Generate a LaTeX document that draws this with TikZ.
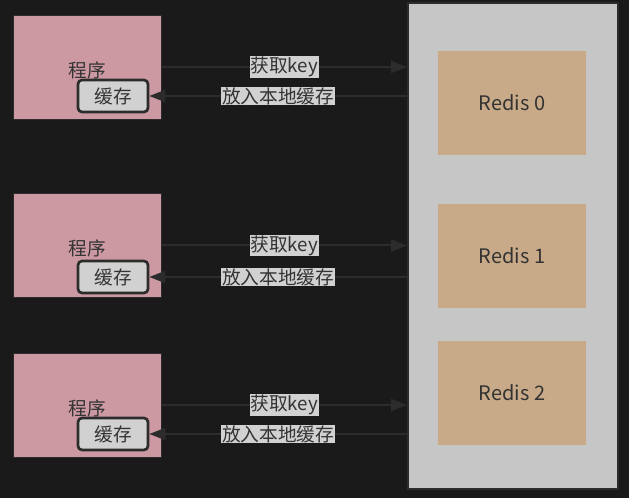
\documentclass[tikz,border=0pt]{standalone}
\usepackage{fontspec}
\setmainfont{Noto Sans CJK SC}
\usepackage{tikz}
\usetikzlibrary{arrows.meta}
\definecolor{bgdark}{HTML}{1A1A1A}
\definecolor{progpink}{HTML}{CC99A2}
\definecolor{cachegray}{HTML}{D1D1D1}
\definecolor{poolgray}{HTML}{C6C6C6}
\definecolor{redistan}{HTML}{C8AA88}
\definecolor{inkdark}{HTML}{333333}
\definecolor{linedark}{HTML}{2C2C2C}

\begin{document}
\begin{tikzpicture}[x=0.75pt,y=-0.75pt]
  \tikzset{ProgStyle/.style = {
    shape         = rectangle,
    draw          = linedark,
    fill          = progpink,
    line width    = 0.6pt,
    minimum width = 111pt,
    minimum height= 78pt
    }
  }
  \tikzset{ProgTextStyle/.style = {
    text          = inkdark,
    font          = \fontsize{14}{16}\selectfont
    }
  }
  \tikzset{CacheStyle/.style = {
    shape         = rectangle,
    rounded corners = 3pt,
    draw          = linedark,
    fill          = cachegray,
    line width    = 2pt,
    text          = inkdark,
    minimum width = 52.5pt,
    minimum height= 24pt,
    font          = \fontsize{14}{16}\selectfont
    }
  }
  \tikzset{RedisStyle/.style = {
    shape         = rectangle,
    fill          = redistan,
    text          = inkdark,
    minimum width = 111pt,
    minimum height= 78pt,
    font          = \fontsize{15}{17}\selectfont
    }
  }
  \tikzset{ArrowStyle/.style = {
    draw          = linedark,
    line width    = 1.5pt,
    -{Triangle[length=12pt,width=9pt]}
    }
  }
  \tikzset{LabelStyle/.style = {
    fill          = cachegray,
    text          = inkdark,
    inner sep     = 0.6pt,
    font          = \fontsize{14}{16}\selectfont
    }
  }

  \fill[bgdark] (0,0) rectangle (629,498);
  \useasboundingbox (0,0) rectangle (629,498);

  \node[draw=linedark, fill=poolgray, line width=1.5pt,
        minimum width=157.5pt, minimum height=364.5pt](Pool) at (513, 246) {};

	\node[RedisStyle](R0) at (512, 103) {Redis 0};
	\node[RedisStyle](R1) at (512, 256) {Redis 1};
	\node[RedisStyle](R2) at (512, 393) {Redis 2};

	\node[ProgStyle](P0) at (87, 67) {};
	\node[ProgStyle](P1) at (87, 245.5) {};
	\node[ProgStyle](P2) at (87, 405) {};
	\node[ProgTextStyle](T0) at (87, 70) {程序};
	\node[ProgTextStyle](T1) at (87, 248.5) {程序};
	\node[ProgTextStyle](T2) at (87, 408) {程序};

	\node[CacheStyle](C0) at (113, 96) {缓存};
	\node[CacheStyle](C1) at (113, 277) {缓存};
	\node[CacheStyle](C2) at (113, 434) {缓存};

	\draw[ArrowStyle](P0.east) to node[LabelStyle](G0){获取key} (P0.east -| Pool.west);
	\draw[ArrowStyle](C0.east -| Pool.west) to node[LabelStyle](S0){放入本地缓存} (C0.east);
	\draw[ArrowStyle](P1.east) to node[LabelStyle](G1){获取key} (P1.east -| Pool.west);
	\draw[ArrowStyle](C1.east -| Pool.west) to node[LabelStyle](S1){放入本地缓存} (C1.east);
	\draw[ArrowStyle](P2.east) to node[LabelStyle](G2){获取key} (P2.east -| Pool.west);
	\draw[ArrowStyle](C2.east -| Pool.west) to node[LabelStyle](S2){放入本地缓存} (C2.east);
\end{tikzpicture}
\end{document}
